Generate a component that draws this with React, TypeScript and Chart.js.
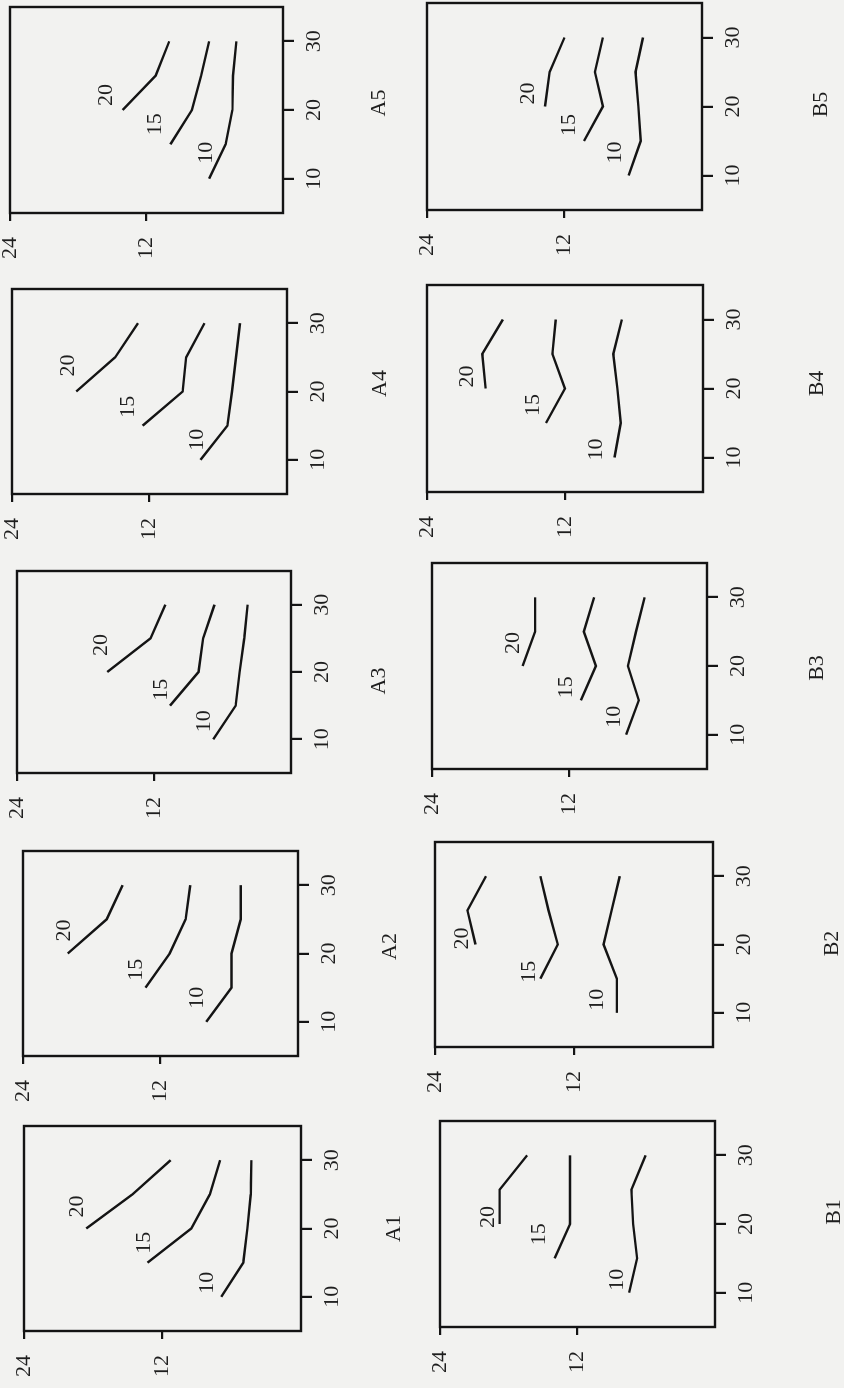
import React, { useEffect, useRef } from "react";
import { Chart, registerables } from "chart.js";

Chart.register(...registerables);

// ---------------- data ----------------
const xValues = [10, 15, 20, 25, 30];
const seriesLabels = ["10", "15", "20"];
const seriesStartIndex = [0, 1, 2];
const xTickValues = [10, 20, 30];
const yTickValues = [12, 24];
const panelNames = ["A1", "A2", "A3", "A4", "A5", "B1", "B2", "B3", "B4", "B5"];

const a1Curve10 = [6.9, 5.0, 4.65, 4.35, 4.3];
const a1Curve15 = [13.3, 9.5, 7.9, 7.0];
const a1Curve20 = [18.6, 14.6, 11.3];

const a2Curve10 = [8.0, 5.8, 5.8, 5.0, 5.0];
const a2Curve15 = [13.3, 11.2, 9.8, 9.4];
const a2Curve20 = [20.1, 16.7, 15.3];

const a3Curve10 = [6.8, 4.85, 4.5, 4.1, 3.8];
const a3Curve15 = [10.6, 8.1, 7.7, 6.7];
const a3Curve20 = [16.1, 12.3, 11.0];

const a4Curve10 = [7.55, 5.2, 4.8, 4.45, 4.1];
const a4Curve15 = [12.6, 9.1, 8.8, 7.2];
const a4Curve20 = [18.4, 15.0, 13.0];

const a5Curve10 = [6.5, 5.05, 4.45, 4.4, 4.1];
const a5Curve15 = [9.9, 8.0, 7.2, 6.5];
const a5Curve20 = [14.1, 11.2, 10.0];

const b1Curve10 = [7.5, 6.8, 7.15, 7.3, 6.05];
const b1Curve15 = [14.0, 12.65, 12.65, 12.65];
const b1Curve20 = [18.8, 18.8, 16.4];

const b2Curve10 = [8.3, 8.3, 9.45, 8.75, 8.05];
const b2Curve15 = [14.9, 13.4, 14.2, 14.9];
const b2Curve20 = [20.5, 21.2, 19.6];

const b3Curve10 = [7.05, 5.95, 6.9, 6.2, 5.45];
const b3Curve15 = [11.0, 9.7, 10.75, 9.85];
const b3Curve20 = [16.1, 15.0, 15.0];

const b4Curve10 = [7.7, 7.15, 7.45, 7.8, 7.05];
const b4Curve15 = [13.65, 12.0, 13.1, 12.8];
const b4Curve20 = [18.9, 19.2, 17.4];

const b5Curve10 = [6.4, 5.35, 5.55, 5.8, 5.15];
const b5Curve15 = [10.3, 8.65, 9.35, 8.65];
const b5Curve20 = [13.7, 13.3, 12.0];

const panelSeries: Record<string, number[][]> = {
  A1: [a1Curve10, a1Curve15, a1Curve20],
  A2: [a2Curve10, a2Curve15, a2Curve20],
  A3: [a3Curve10, a3Curve15, a3Curve20],
  A4: [a4Curve10, a4Curve15, a4Curve20],
  A5: [a5Curve10, a5Curve15, a5Curve20],
  B1: [b1Curve10, b1Curve15, b1Curve20],
  B2: [b2Curve10, b2Curve15, b2Curve20],
  B3: [b3Curve10, b3Curve15, b3Curve20],
  B4: [b4Curve10, b4Curve15, b4Curve20],
  B5: [b5Curve10, b5Curve15, b5Curve20],
};

// ---------------- layout / style ----------------
// plot frame on the page: [left, top, right, bottom] (page is the rotated view)
const frames: Record<string, number[]> = {
  A1: [24, 1126, 301, 1331],
  A2: [23, 851, 298, 1056],
  A3: [17, 571, 291, 773],
  A4: [12, 289, 287, 494],
  A5: [10, 7, 283, 213],
  B1: [440, 1121, 715, 1327],
  B2: [435, 842, 713, 1047],
  B3: [432, 563, 707, 769],
  B4: [427, 285, 703, 492],
  B5: [427, 3, 702, 210],
};
// panel name position: [shift along x axis, distance below x axis]
const nameOffsets: Record<string, number[]> = {
  A1: [0, 93], A2: [7, 92.5], A3: [-9, 88.5], A4: [8, 93], A5: [7, 96.5],
  B1: [12, 119], B2: [1, 119.5], B3: [-2, 110.5], B4: [5, 114.5], B5: [2, 119.5],
};
// curve label offsets from the first point: [right, up]
const curveLabelOffsets: Record<string, number[][]> = {
  A1: [[14, 14], [20, 3], [22, 9]],
  A2: [[24, 9], [18, 9], [23, 3]],
  A3: [[18, 9], [16, 9], [27, 6]],
  A4: [[20, 3], [19, 14], [26, 8]],
  A5: [[26, 3], [20, 15], [15, 16]],
  B1: [[13, 12], [24, 15], [7, 11]],
  B2: [[13, 20], [7, 11], [6, 13]],
  B3: [[18, 12], [13, 15], [23, 9]],
  B4: [[8, 18], [18, 13], [12, 18]],
  B5: [[23, 13], [16, 15], [13, 17]],
};

const PAD_L = 2;
const PAD_R = 4;
const PAD_T = 16;
const PAD_B = 2;
const Y_AXIS_W = 58;
const X_AXIS_H = 140;
const INK = "#141414";
const TEXT = "#1e1e1e";
const BG = "#f2f2f0";
const FAMILY = '"Liberation Serif", "DejaVu Serif", serif';
const FONT_SIZE = 22;

const framePlugin = {
  id: "frameBox",
  afterDraw(chart: any) {
    const { ctx, chartArea } = chart;
    const { left, top, right, bottom } = chartArea;
    ctx.save();
    ctx.strokeStyle = INK;
    ctx.lineWidth = 2.4;
    ctx.strokeRect(left, top, right - left, bottom - top);
    ctx.restore();
  },
};

function makeLabelPlugin(name: string) {
  return {
    id: "curveLabels",
    afterDatasetsDraw(chart: any) {
      const { ctx, chartArea } = chart;
      ctx.save();
      ctx.fillStyle = TEXT;
      ctx.font = `${FONT_SIZE}px ${FAMILY}`;
      ctx.textAlign = "center";
      ctx.textBaseline = "middle";
      chart.data.datasets.forEach((ds: any, i: number) => {
        const meta = chart.getDatasetMeta(i);
        const p = meta.data[0];
        if (!p) return;
        const off = curveLabelOffsets[name][i];
        ctx.fillText(ds.label, p.x + off[0], p.y - off[1]);
      });
      const no = nameOffsets[name];
      ctx.fillText(name, (chartArea.left + chartArea.right) / 2 + no[0], chartArea.bottom + no[1]);
      ctx.restore();
    },
  };
}

function Panel({ name }: { name: string }) {
  const ref = useRef<HTMLCanvasElement>(null);
  const [L, T, R, B] = frames[name];
  const areaW = B - T;
  const areaH = R - L;
  const Wc = PAD_L + Y_AXIS_W + areaW + PAD_R;
  const Hc = PAD_T + areaH + X_AXIS_H + PAD_B;

  useEffect(() => {
    if (!ref.current) return;
    const series = panelSeries[name];
    const datasets = series.map((vals, i) => ({
      label: seriesLabels[i],
      data: vals.map((v, k) => ({ x: xValues[seriesStartIndex[i] + k], y: v })),
      showLine: true,
      borderColor: INK,
      backgroundColor: INK,
      borderWidth: 2.4,
      pointRadius: 0,
      tension: 0,
      fill: false,
    }));
    const font = { family: FAMILY, size: FONT_SIZE };
    const chart = new Chart(ref.current, {
      type: "scatter",
      data: { datasets },
      options: {
        animation: false,
        responsive: false,
        devicePixelRatio: 1,
        events: [],
        layout: { padding: { left: PAD_L, right: PAD_R, top: PAD_T, bottom: PAD_B } },
        plugins: { legend: { display: false }, tooltip: { enabled: false } },
        scales: {
          x: {
            type: "linear",
            min: 5,
            max: 35,
            afterBuildTicks: (s: any) => {
              s.ticks = xTickValues.map((v) => ({ value: v }));
            },
            afterFit: (s: any) => {
              s.height = X_AXIS_H;
              s.paddingLeft = 0;
              s.paddingRight = 0;
            },
            border: { display: false },
            grid: {
              drawOnChartArea: false,
              drawTicks: true,
              tickLength: 11,
              tickWidth: 2.2,
              tickColor: INK,
              lineWidth: 2.2,
              color: INK,
            },
            ticks: { font, color: TEXT, padding: 7, maxRotation: 0, autoSkip: false },
          },
          y: {
            type: "linear",
            min: 0,
            max: 24,
            afterBuildTicks: (s: any) => {
              s.ticks = yTickValues.map((v) => ({ value: v }));
            },
            afterFit: (s: any) => {
              s.width = Y_AXIS_W;
              s.paddingTop = 0;
              s.paddingBottom = 0;
            },
            border: { display: false },
            grid: {
              drawOnChartArea: false,
              drawTicks: true,
              tickLength: 8,
              tickWidth: 2.2,
              tickColor: INK,
              lineWidth: 2.2,
              color: INK,
            },
            ticks: { font, color: TEXT, padding: 16, autoSkip: false },
          },
        },
      } as any,
      plugins: [framePlugin, makeLabelPlugin(name)],
    });
    return () => chart.destroy();
  }, [name]);

  return (
    <canvas
      ref={ref}
      width={Wc}
      height={Hc}
      style={{
        position: "absolute",
        left: L - PAD_T,
        top: T - PAD_R + Wc,
        width: Wc,
        height: Hc,
        transform: "rotate(-90deg)",
        transformOrigin: "0 0",
      }}
    />
  );
}

export default function App() {
  return (
    <div
      style={{
        position: "absolute",
        left: 0,
        top: 0,
        width: 844,
        height: 1388,
        overflow: "hidden",
        background: BG,
      }}
    >
      {panelNames.map((n) => (
        <Panel key={n} name={n} />
      ))}
    </div>
  );
}
